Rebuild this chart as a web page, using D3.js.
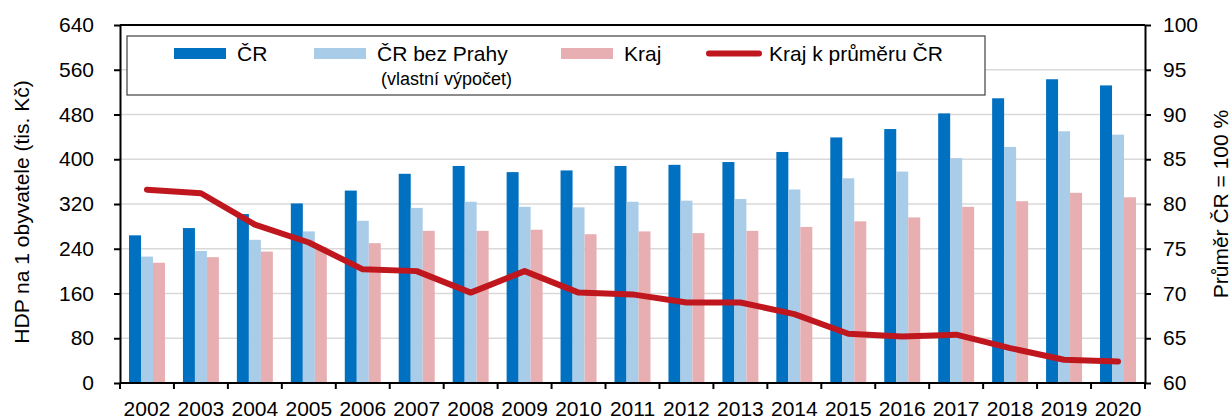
<!DOCTYPE html>
<html>
<head>
<meta charset="utf-8">
<script src="https://cdn.jsdelivr.net/npm/d3@7"></script>
<style>
  body { margin: 0; background: #fff; }
  svg { font-family: "Liberation Sans", Arial, sans-serif; }
  .grid line { stroke: #d9d9d9; stroke-width: 1.5; }
</style>
</head>
<body>
<div id="chart"></div>
<script>
// Data
const years = ["2002","2003","2004","2005","2006","2007","2008","2009","2010","2011",
               "2012","2013","2014","2015","2016","2017","2018","2019","2020"];
const cr      = [264,277,302,321,344,374,388,377,380,388,390,395,413,439,454,482,509,543,532];
const crBezPrahy = [226,236,256,271,290,313,324,315,314,324,326,329,346,366,378,402,422,450,444];
const kraj    = [215,225,235,243,250,272,272,274,266,271,268,272,279,289,296,315,325,340,332];
const krajPct = [81.6,81.2,77.7,75.7,72.7,72.5,70.1,72.5,70.1,69.9,69.0,69.0,67.7,65.5,65.2,65.4,63.9,62.6,62.4];
const leftTicks = [0,80,160,240,320,400,480,560,640];
const rightTicks = [60,65,70,75,80,85,90,95,100];

const seriesNames = ["ČR", "ČR bez Prahy", "Kraj"];
const colors = {"ČR": "#0070c0", "ČR bez Prahy": "#a9cde8", "Kraj": "#e8afb2"};
const lineColor = "#c0171f";

const W = 1232, H = 419;
const margin = {top: 25, right: 87, bottom: 36, left: 120};
const width = W - margin.left - margin.right;
const height = H - margin.top - margin.bottom;
const fs = 21;

const svg = d3.select("#chart").append("svg")
    .attr("width", W).attr("height", H);
const g = svg.append("g")
    .attr("transform", `translate(${margin.left},${margin.top})`);

// Scales
const x0 = d3.scaleBand().domain(years).range([0, width])
    .paddingInner(0.333).paddingOuter(0.1667);
const x1 = d3.scaleBand().domain(seriesNames).range([0, x0.bandwidth()]);
const yL = d3.scaleLinear().domain([0, 640]).range([height, 0]);
const yR = d3.scaleLinear().domain([60, 100]).range([height, 0]);

// Gridlines
g.append("g").attr("class", "grid")
    .selectAll("line").data(leftTicks.slice(1, -1)).join("line")
    .attr("x1", 0).attr("x2", width)
    .attr("y1", d => yL(d)).attr("y2", d => yL(d));

// Bars
const rows = years.map((yr, i) => ({year: yr, values: [cr[i], crBezPrahy[i], kraj[i]]}));
g.append("g").selectAll("g").data(rows).join("g")
    .attr("transform", d => `translate(${x0(d.year)},0)`)
    .selectAll("rect").data(d => d.values.map((v, j) => ({key: seriesNames[j], v})))
    .join("rect")
    .attr("x", d => x1(d.key))
    .attr("width", x1.bandwidth())
    .attr("y", d => yL(d.v))
    .attr("height", d => height - yL(d.v))
    .attr("fill", d => colors[d.key]);

// Line on right axis
const line = d3.line()
    .x((d, i) => x0(years[i]) + x0.bandwidth() / 2)
    .y(d => yR(d));
g.append("path").datum(krajPct)
    .attr("d", line)
    .attr("fill", "none")
    .attr("stroke", lineColor)
    .attr("stroke-width", 6)
    .attr("stroke-linejoin", "round")
    .attr("stroke-linecap", "round");

// Frame: top border
g.append("line").attr("x1", 0).attr("x2", width).attr("y1", 0).attr("y2", 0)
    .attr("stroke", "#000").attr("stroke-width", 2);

// Axes
const axisStyle = sel => {
    sel.select(".domain").attr("stroke", "#000").attr("stroke-width", 2);
    sel.selectAll(".tick line").attr("stroke", "#000").attr("stroke-width", 2);
    sel.selectAll(".tick text").attr("font-size", fs).attr("fill", "#000")
        .attr("font-family", "Liberation Sans, Arial, sans-serif");
};

g.append("g")
    .call(d3.axisLeft(yL).tickValues(leftTicks).tickSize(6).tickSizeOuter(0).tickPadding(20))
    .call(axisStyle);

g.append("g").attr("transform", `translate(${width},0)`)
    .call(d3.axisRight(yR).tickValues(rightTicks).tickSize(6).tickSizeOuter(0).tickPadding(12))
    .call(axisStyle);

// X axis: ticks between categories
const step = x0.step();
const xAxis = g.append("g").attr("transform", `translate(0,${height})`);
xAxis.append("line").attr("x1", 0).attr("x2", width)
    .attr("stroke", "#000").attr("stroke-width", 2);
xAxis.selectAll("line.tk").data(d3.range(years.length + 1)).join("line")
    .attr("class", "tk")
    .attr("x1", i => i * step).attr("x2", i => i * step)
    .attr("y1", 0).attr("y2", 6)
    .attr("stroke", "#000").attr("stroke-width", 2);
xAxis.selectAll("text").data(years).join("text")
    .attr("x", d => x0(d) + x0.bandwidth() / 2)
    .attr("y", 33)
    .attr("text-anchor", "middle")
    .attr("font-size", fs)
    .text(d => d);

// Axis titles
svg.append("text")
    .attr("transform", `translate(29,212) rotate(-90)`)
    .attr("text-anchor", "middle")
    .attr("font-size", fs)
    .text("HDP na 1 obyvatele (tis. Kč)");
svg.append("text")
    .attr("transform", `translate(1228,${margin.top + height / 2}) rotate(-90)`)
    .attr("text-anchor", "middle")
    .attr("font-size", fs)
    .text("Průměr ČR = 100 %");

// Legend
const legend = svg.append("g");
legend.append("rect")
    .attr("x", 127).attr("y", 36).attr("width", 858).attr("height", 59)
    .attr("fill", "#fff").attr("stroke", "#404040").attr("stroke-width", 1.2);

const legendItems = [
    {label: "ČR", x: 174, type: "rect", color: colors["ČR"]},
    {label: "ČR bez Prahy", x: 314, type: "rect", color: colors["ČR bez Prahy"], sub: "(vlastní výpočet)"},
    {label: "Kraj", x: 561, type: "rect", color: colors["Kraj"]},
    {label: "Kraj k průměru ČR", x: 706, type: "line", color: lineColor}
];
legendItems.forEach(it => {
    if (it.type === "rect") {
        legend.append("rect").attr("x", it.x).attr("y", 48)
            .attr("width", 52).attr("height", 11).attr("fill", it.color);
    } else {
        legend.append("line").attr("x1", it.x + 3).attr("x2", it.x + 53)
            .attr("y1", 53.5).attr("y2", 53.5)
            .attr("stroke", it.color).attr("stroke-width", 6).attr("stroke-linecap", "round");
    }
    legend.append("text").attr("x", it.x + 63).attr("y", 61)
        .attr("font-size", fs).text(it.label);
    if (it.sub) {
        legend.append("text").attr("x", it.x + 67).attr("y", 85)
            .attr("font-size", 18).text(it.sub);
    }
});
</script>
</body>
</html>
